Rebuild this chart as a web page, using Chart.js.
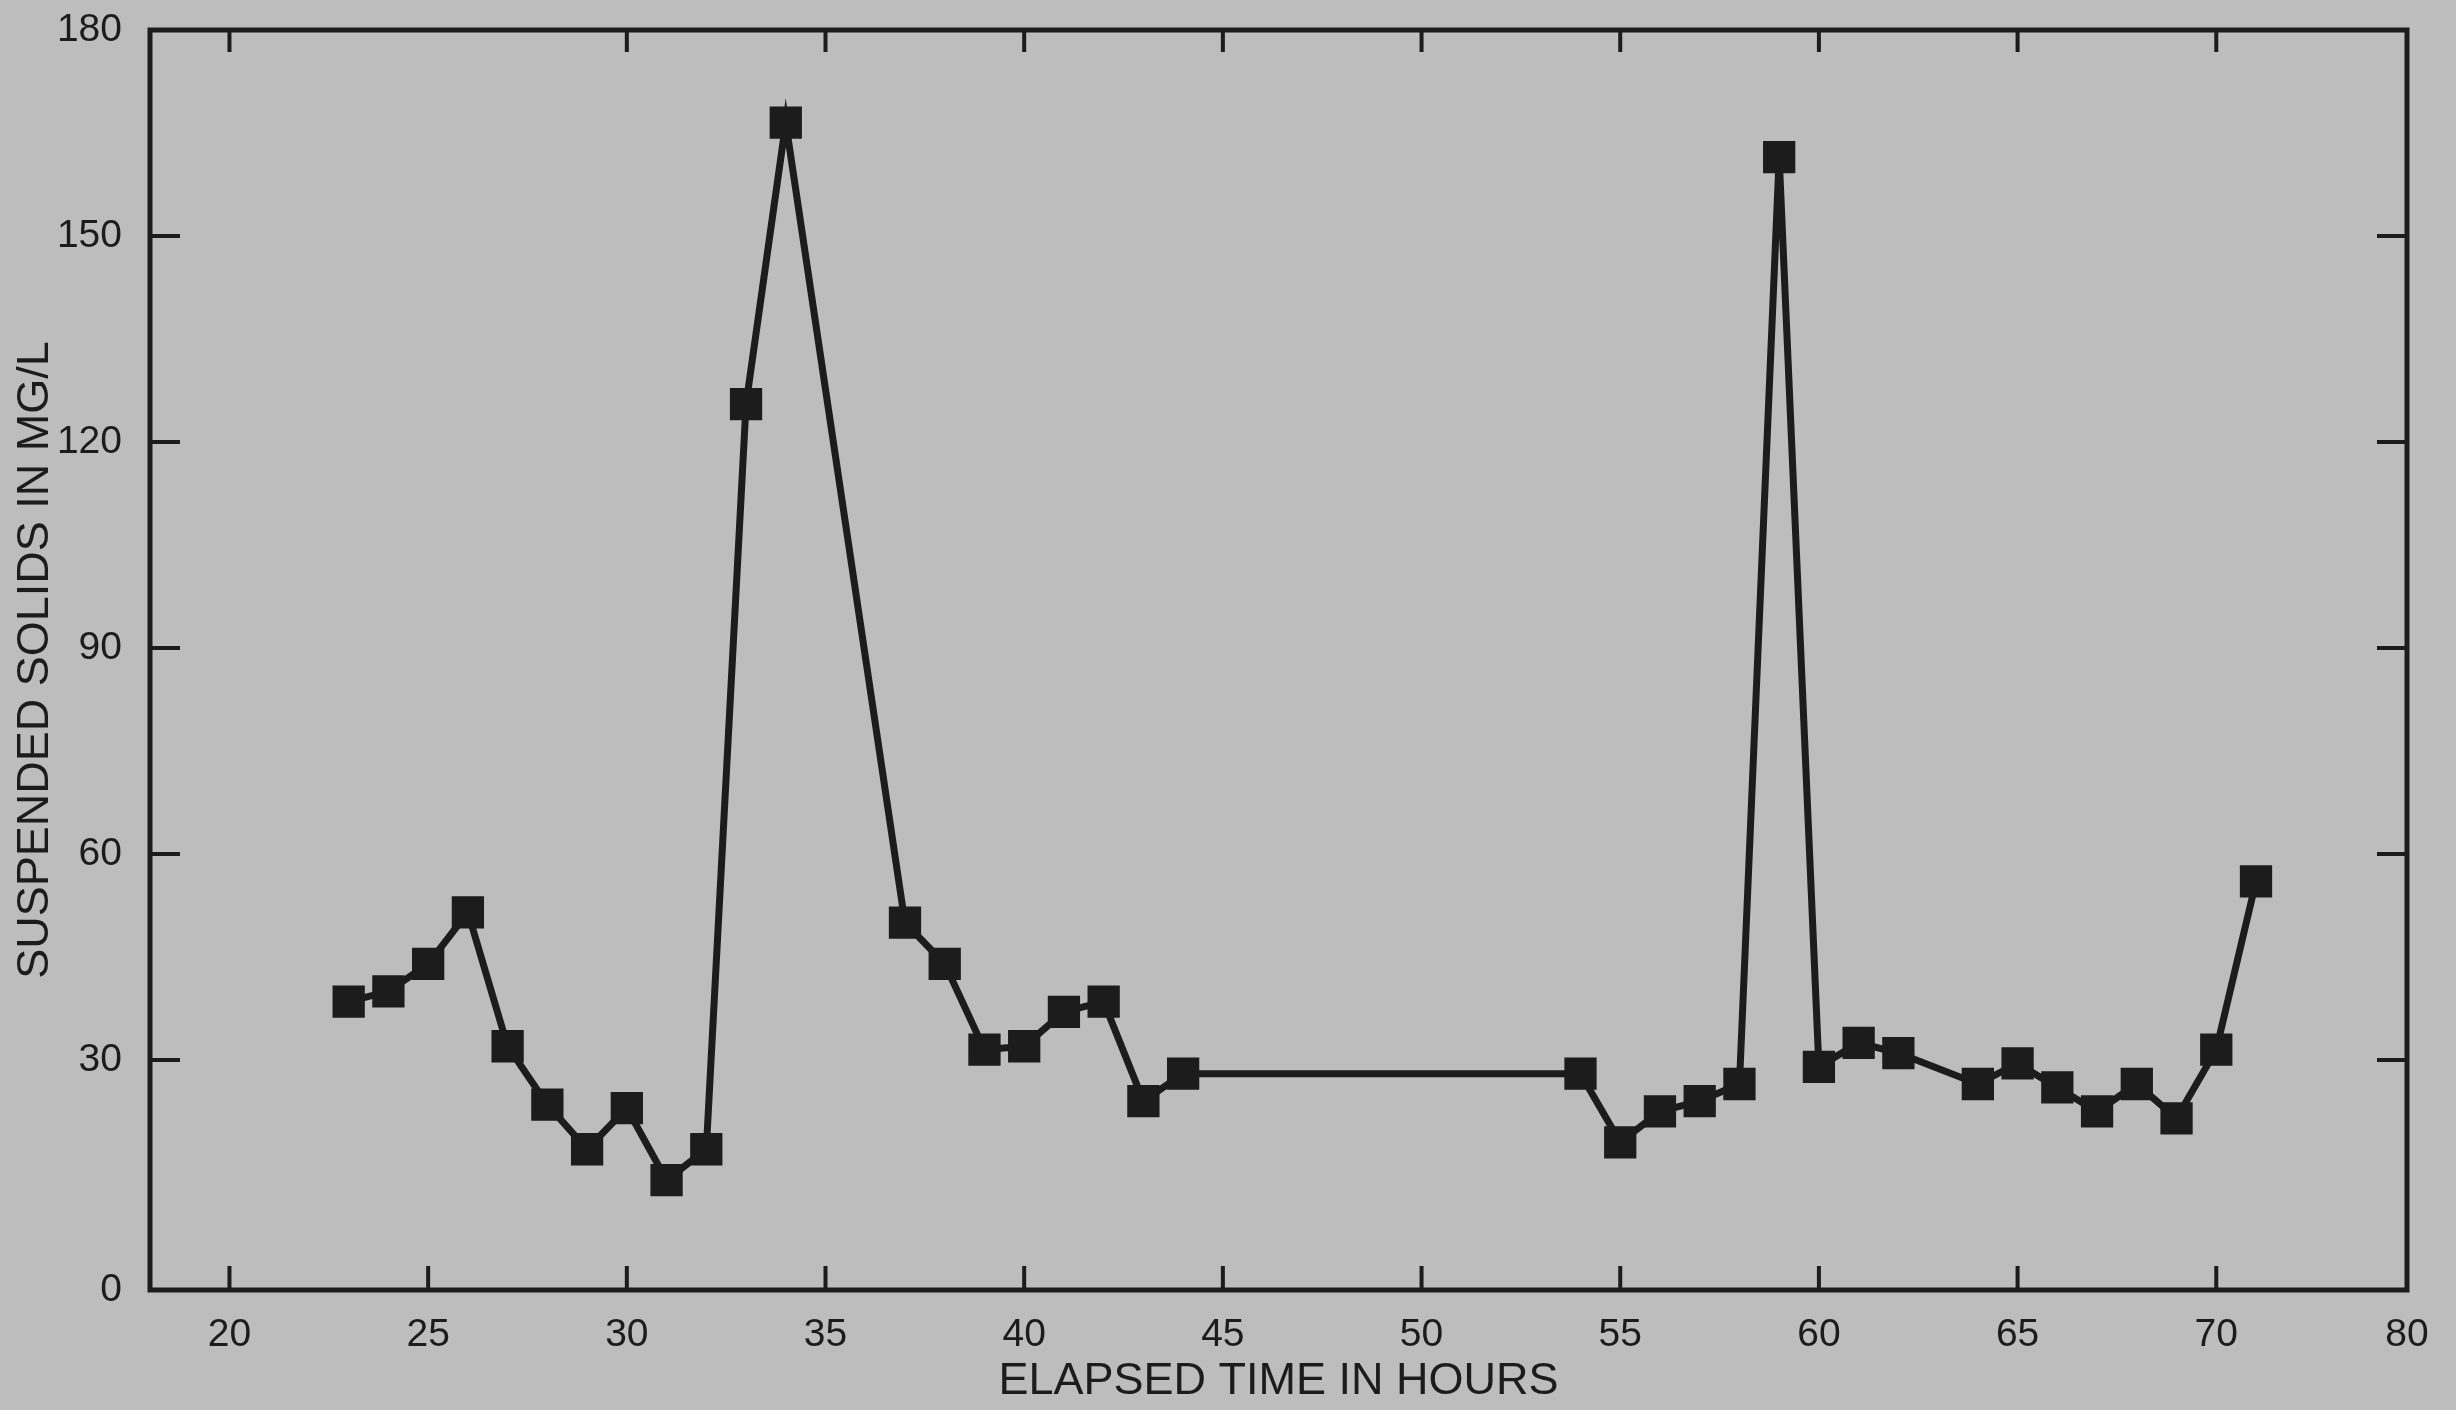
<!DOCTYPE html>
<html>
<head>
<meta charset="utf-8">
<script src="https://cdn.jsdelivr.net/npm/chart.js@4.4.1/dist/chart.umd.min.js"></script>
<style>
  html, body { margin: 0; padding: 0; background: #bdbdbd; }
  #wrap { width: 2456px; height: 1410px; }
</style>
</head>
<body>
<div id="wrap"><canvas id="solidsChart" width="2456" height="1410"></canvas></div>
<script>
    // elapsed time (hours) and suspended solids (mg/L)
    const hours = [23, 24, 25, 26, 27, 28, 29, 30, 31, 32, 33, 34,
                   37, 38, 39, 40, 41, 42, 43, 44,
                   54, 55, 56, 57, 58, 59, 60, 61, 62,
                   64, 65, 66, 67, 68, 69, 70, 71];
    const suspendedSolids = [38.5, 40, 44, 51.5, 32, 23.5, 17, 23, 12.5, 17, 125.5, 166.5,
                             50, 44, 31.5, 32, 37, 38.5, 24, 28,
                             28, 18, 22.5, 24, 26.5, 161.5, 29, 32.5, 31,
                             26.5, 29.5, 26, 22.5, 26.5, 21.5, 31.5, 56];

    // axis ranges + ticks. the printed "80" sits on the right end of the axis
    // and the "0" sits on the bottom frame line, like in the original figure
    const xMin = 18, xMax = 74.8;
    const yMin = -3.5, yMax = 180;
    const xTicks = [20, 25, 30, 35, 40, 45, 50, 55, 60, 65, 70, xMax];
    const xTickLabels = ['20', '25', '30', '35', '40', '45', '50', '55', '60', '65', '70', '80'];
    const yTicks = [yMin, 30, 60, 90, 120, 150, 180];
    const yTickLabels = ['0', '30', '60', '90', '120', '150', '180'];
    const topTickHours = [20, 30, 35, 40, 45, 50, 55, 60, 65, 70]; // no mark at 25 on top
    const sideTickValues = [30, 60, 90, 120, 150];

    const ink = '#1c1c1c';
    const fontFamily = '"Liberation Sans", Arial, Helvetica, sans-serif';

    // frame with inward tick marks on all four sides
    const frameTicks = {
        id: 'frameTicks',
        afterDatasetsDraw(chart) {
            const { ctx, chartArea: a, scales: { x, y } } = chart;
            ctx.save();
            ctx.strokeStyle = ink;
            ctx.lineWidth = 5;
            ctx.strokeRect(a.left, a.top, a.right - a.left, a.bottom - a.top);
            ctx.lineWidth = 4;
            ctx.beginPath();
            xTicks.slice(0, -1).forEach(h => {
                const px = x.getPixelForValue(h);
                ctx.moveTo(px, a.bottom);
                ctx.lineTo(px, a.bottom - 24);
            });
            topTickHours.forEach(h => {
                const px = x.getPixelForValue(h);
                ctx.moveTo(px, a.top);
                ctx.lineTo(px, a.top + 22);
            });
            sideTickValues.forEach(v => {
                const py = y.getPixelForValue(v);
                ctx.moveTo(a.left, py);
                ctx.lineTo(a.left + 30, py);
                ctx.moveTo(a.right, py);
                ctx.lineTo(a.right - 30, py);
            });
            ctx.stroke();
            ctx.restore();
        }
    };

    const ctx = document.getElementById('solidsChart').getContext('2d');
    const solidsChart = new Chart(ctx, {
        type: 'line',
        data: {
            datasets: [{
                label: 'Suspended solids (mg/L)',
                data: hours.map((h, i) => ({ x: h, y: suspendedSolids[i] })),
                borderColor: ink,
                borderWidth: 7,
                backgroundColor: ink,
                pointStyle: 'rect',
                pointRadius: 20,
                pointBorderWidth: 4,
                pointBorderColor: ink,
                pointBackgroundColor: ink,
                tension: 0,
                fill: false
            }]
        },
        options: {
            responsive: false,
            animation: false,
            devicePixelRatio: 1,
            layout: { padding: { left: 0, right: 49, top: 30, bottom: 0 } },
            plugins: {
                legend: { display: false },
                tooltip: { enabled: false }
            },
            scales: {
                x: {
                    type: 'linear',
                    min: xMin,
                    max: xMax,
                    afterBuildTicks: s => { s.ticks = xTicks.map(v => ({ value: v })); },
                    afterFit: s => { s.height = 120; s.paddingLeft = 0; s.paddingRight = 0; },
                    grid: { display: false, drawTicks: false },
                    border: { display: false },
                    ticks: {
                        autoSkip: false,
                        maxRotation: 0,
                        padding: 22,
                        color: ink,
                        font: { family: fontFamily, size: 39 },
                        callback: (v, i) => xTickLabels[i]
                    },
                    title: {
                        display: true,
                        text: 'ELAPSED TIME IN HOURS',
                        color: ink,
                        font: { family: fontFamily, size: 45 },
                        padding: { top: 0, bottom: 1 }
                    }
                },
                y: {
                    type: 'linear',
                    min: yMin,
                    max: yMax,
                    afterBuildTicks: s => { s.ticks = yTicks.map(v => ({ value: v })); },
                    afterFit: s => { s.width = 150; s.paddingTop = 0; s.paddingBottom = 0; },
                    grid: { display: false, drawTicks: false },
                    border: { display: false },
                    ticks: {
                        autoSkip: false,
                        padding: 28,
                        color: ink,
                        font: { family: fontFamily, size: 39 },
                        callback: (v, i) => yTickLabels[i]
                    },
                    title: {
                        display: true,
                        text: 'SUSPENDED SOLIDS IN MG/L',
                        color: ink,
                        font: { family: fontFamily, size: 45 },
                        padding: { top: 9, bottom: 0 }
                    }
                }
            }
        },
        plugins: [frameTicks]
    });
</script>
</body>
</html>
